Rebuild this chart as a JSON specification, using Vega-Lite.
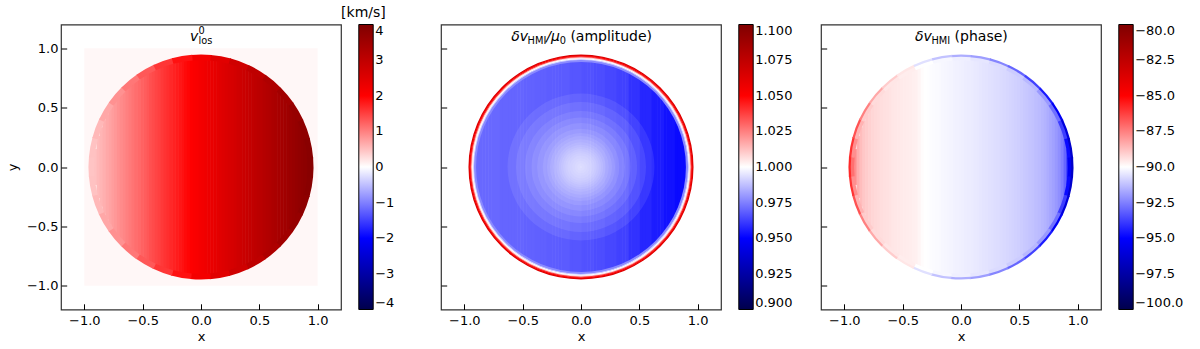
{
"$schema":"https://vega.github.io/schema/vega-lite/v6.json",
"padding":{"left":5,"top":5.5,"right":5,"bottom":5},
"background":"white",
"datasets":{
"s":[
{"x":-0.925,"t":0.151,"b":-0.151,"v1":0.49,"v2":0.9703,"v3":-87.8},
{"x":-0.9,"t":0.261,"b":-0.261,"v1":0.54,"v2":0.9703,"v3":-88.4},
{"x":-0.875,"t":0.334,"b":-0.334,"v1":0.58,"v2":0.9703,"v3":-88.7},
{"x":-0.85,"t":0.393,"b":-0.393,"v1":0.63,"v2":0.9703,"v3":-88.9},
{"x":-0.825,"t":0.442,"b":-0.442,"v1":0.68,"v2":0.9703,"v3":-89.0},
{"x":-0.8,"t":0.485,"b":-0.485,"v1":0.72,"v2":0.9703,"v3":-89.1},
{"x":-0.775,"t":0.524,"b":-0.524,"v1":0.77,"v2":0.9703,"v3":-89.2},
{"x":-0.75,"t":0.558,"b":-0.558,"v1":0.81,"v2":0.9703,"v3":-89.25},
{"x":-0.725,"t":0.59,"b":-0.59,"v1":0.86,"v2":0.9703,"v3":-89.3},
{"x":-0.7,"t":0.619,"b":-0.619,"v1":0.91,"v2":0.9698,"v3":-89.35},
{"x":-0.675,"t":0.646,"b":-0.646,"v1":0.95,"v2":0.9698,"v3":-89.4},
{"x":-0.65,"t":0.67,"b":-0.67,"v1":1.0,"v2":0.9698,"v3":-89.42},
{"x":-0.625,"t":0.693,"b":-0.693,"v1":1.04,"v2":0.9698,"v3":-89.45},
{"x":-0.6,"t":0.714,"b":-0.714,"v1":1.09,"v2":0.9698,"v3":-89.5},
{"x":-0.575,"t":0.734,"b":-0.734,"v1":1.14,"v2":0.9698,"v3":-89.52},
{"x":-0.55,"t":0.753,"b":-0.753,"v1":1.18,"v2":0.9698,"v3":-89.55},
{"x":-0.525,"t":0.77,"b":-0.77,"v1":1.23,"v2":0.9698,"v3":-89.58},
{"x":-0.5,"t":0.786,"b":-0.786,"v1":1.27,"v2":0.9693,"v3":-89.6},
{"x":-0.475,"t":0.801,"b":-0.801,"v1":1.32,"v2":0.9693,"v3":-89.62},
{"x":-0.45,"t":0.815,"b":-0.815,"v1":1.37,"v2":0.9693,"v3":-89.65},
{"x":-0.425,"t":0.828,"b":-0.828,"v1":1.41,"v2":0.9693,"v3":-89.68},
{"x":-0.4,"t":0.84,"b":-0.84,"v1":1.46,"v2":0.9688,"v3":-89.7},
{"x":-0.375,"t":0.851,"b":-0.851,"v1":1.5,"v2":0.9688,"v3":-89.8},
{"x":-0.35,"t":0.861,"b":-0.861,"v1":1.55,"v2":0.9688,"v3":-89.95},
{"x":-0.325,"t":0.871,"b":-0.871,"v1":1.6,"v2":0.9688,"v3":-90.0},
{"x":-0.3,"t":0.879,"b":-0.879,"v1":1.64,"v2":0.9683,"v3":-90.02},
{"x":-0.275,"t":0.887,"b":-0.887,"v1":1.69,"v2":0.9683,"v3":-90.05},
{"x":-0.25,"t":0.894,"b":-0.894,"v1":1.73,"v2":0.9683,"v3":-90.07},
{"x":-0.225,"t":0.9,"b":-0.9,"v1":1.78,"v2":0.9683,"v3":-90.1},
{"x":-0.2,"t":0.906,"b":-0.906,"v1":1.83,"v2":0.9678,"v3":-90.12},
{"x":-0.175,"t":0.911,"b":-0.911,"v1":1.87,"v2":0.9678,"v3":-90.15},
{"x":-0.15,"t":0.915,"b":-0.915,"v1":1.92,"v2":0.9678,"v3":-90.18},
{"x":-0.125,"t":0.918,"b":-0.918,"v1":1.96,"v2":0.9678,"v3":-90.2},
{"x":-0.1,"t":0.921,"b":-0.921,"v1":2.01,"v2":0.9668,"v3":-90.22},
{"x":-0.075,"t":0.923,"b":-0.923,"v1":2.06,"v2":0.9668,"v3":-90.25},
{"x":-0.05,"t":0.924,"b":-0.924,"v1":2.1,"v2":0.9668,"v3":-90.27},
{"x":-0.025,"t":0.925,"b":-0.925,"v1":2.15,"v2":0.9668,"v3":-90.3},
{"x":0,"t":0.925,"b":-0.925,"v1":2.19,"v2":0.966,"v3":-90.32},
{"x":0.025,"t":0.924,"b":-0.924,"v1":2.24,"v2":0.966,"v3":-90.35},
{"x":0.05,"t":0.923,"b":-0.923,"v1":2.29,"v2":0.966,"v3":-90.37},
{"x":0.075,"t":0.921,"b":-0.921,"v1":2.33,"v2":0.966,"v3":-90.4},
{"x":0.1,"t":0.918,"b":-0.918,"v1":2.38,"v2":0.965,"v3":-90.43},
{"x":0.125,"t":0.915,"b":-0.915,"v1":2.42,"v2":0.965,"v3":-90.46},
{"x":0.15,"t":0.911,"b":-0.911,"v1":2.47,"v2":0.965,"v3":-90.49},
{"x":0.175,"t":0.906,"b":-0.906,"v1":2.52,"v2":0.965,"v3":-90.52},
{"x":0.2,"t":0.9,"b":-0.9,"v1":2.56,"v2":0.964,"v3":-90.55},
{"x":0.225,"t":0.894,"b":-0.894,"v1":2.61,"v2":0.964,"v3":-90.58},
{"x":0.25,"t":0.887,"b":-0.887,"v1":2.65,"v2":0.964,"v3":-90.61},
{"x":0.275,"t":0.879,"b":-0.879,"v1":2.7,"v2":0.964,"v3":-90.64},
{"x":0.3,"t":0.871,"b":-0.871,"v1":2.75,"v2":0.9628,"v3":-90.67},
{"x":0.325,"t":0.861,"b":-0.861,"v1":2.79,"v2":0.9628,"v3":-90.7},
{"x":0.35,"t":0.851,"b":-0.851,"v1":2.84,"v2":0.9628,"v3":-90.74},
{"x":0.375,"t":0.84,"b":-0.84,"v1":2.88,"v2":0.9628,"v3":-90.78},
{"x":0.4,"t":0.828,"b":-0.828,"v1":2.93,"v2":0.9598,"v3":-90.82},
{"x":0.425,"t":0.815,"b":-0.815,"v1":2.98,"v2":0.9598,"v3":-90.86},
{"x":0.45,"t":0.801,"b":-0.801,"v1":3.02,"v2":0.9598,"v3":-90.9},
{"x":0.475,"t":0.786,"b":-0.786,"v1":3.07,"v2":0.9598,"v3":-90.95},
{"x":0.5,"t":0.77,"b":-0.77,"v1":3.11,"v2":0.9575,"v3":-91.0},
{"x":0.525,"t":0.753,"b":-0.753,"v1":3.16,"v2":0.9575,"v3":-91.05},
{"x":0.55,"t":0.734,"b":-0.734,"v1":3.21,"v2":0.9575,"v3":-91.1},
{"x":0.575,"t":0.714,"b":-0.714,"v1":3.25,"v2":0.9575,"v3":-91.15},
{"x":0.6,"t":0.693,"b":-0.693,"v1":3.3,"v2":0.9555,"v3":-91.2},
{"x":0.625,"t":0.67,"b":-0.67,"v1":3.34,"v2":0.9555,"v3":-91.27},
{"x":0.65,"t":0.646,"b":-0.646,"v1":3.39,"v2":0.9555,"v3":-91.34},
{"x":0.675,"t":0.619,"b":-0.619,"v1":3.44,"v2":0.9555,"v3":-91.42},
{"x":0.7,"t":0.59,"b":-0.59,"v1":3.48,"v2":0.9535,"v3":-91.5},
{"x":0.725,"t":0.558,"b":-0.558,"v1":3.53,"v2":0.9535,"v3":-91.6},
{"x":0.75,"t":0.524,"b":-0.524,"v1":3.57,"v2":0.9535,"v3":-91.72},
{"x":0.775,"t":0.485,"b":-0.485,"v1":3.62,"v2":0.9535,"v3":-91.85},
{"x":0.8,"t":0.442,"b":-0.442,"v1":3.67,"v2":0.952,"v3":-92.0},
{"x":0.825,"t":0.393,"b":-0.393,"v1":3.71,"v2":0.952,"v3":-92.2},
{"x":0.85,"t":0.334,"b":-0.334,"v1":3.76,"v2":0.952,"v3":-92.5},
{"x":0.875,"t":0.261,"b":-0.261,"v1":3.8,"v2":0.952,"v3":-93.0},
{"x":0.9,"t":0.151,"b":-0.151,"v1":3.85,"v2":0.9515,"v3":-94.2}
],
"rim":[
{"a":-5,"a2":5.5,"v1":2.17,"vo":-91.6,"vi":-90.32},
{"a":5,"a2":15.5,"v1":2.47,"vo":-91.9,"vi":-90.5},
{"a":15,"a2":25.5,"v1":2.76,"vo":-92.4,"vi":-90.7},
{"a":25,"a2":35.5,"v1":3.03,"vo":-93.0,"vi":-91.0},
{"a":35,"a2":45.5,"v1":3.27,"vo":-93.7,"vi":-91.4},
{"a":45,"a2":55.5,"v1":3.48,"vo":-94.5,"vi":-92.0},
{"a":55,"a2":65.5,"v1":3.65,"vo":-95.3,"vi":-92.8},
{"a":65,"a2":75.5,"v1":3.78,"vo":-96.0,"vi":-93.8},
{"a":75,"a2":85.5,"v1":3.86,"vo":-96.4,"vi":-94.8},
{"a":85,"a2":95.5,"v1":3.88,"vo":-96.5,"vi":-95.3},
{"a":95,"a2":105.5,"v1":3.86,"vo":-96.4,"vi":-94.8},
{"a":105,"a2":115.5,"v1":3.78,"vo":-96.0,"vi":-93.8},
{"a":115,"a2":125.5,"v1":3.65,"vo":-95.3,"vi":-92.8},
{"a":125,"a2":135.5,"v1":3.48,"vo":-94.5,"vi":-92.0},
{"a":135,"a2":145.5,"v1":3.27,"vo":-93.7,"vi":-91.4},
{"a":145,"a2":155.5,"v1":3.03,"vo":-93.0,"vi":-91.0},
{"a":155,"a2":165.5,"v1":2.76,"vo":-92.4,"vi":-90.7},
{"a":165,"a2":175.5,"v1":2.47,"vo":-91.9,"vi":-90.5},
{"a":175,"a2":185.5,"v1":2.17,"vo":-91.6,"vi":-90.32},
{"a":185,"a2":195.5,"v1":1.87,"vo":-91.2,"vi":-90.15},
{"a":195,"a2":205.5,"v1":1.58,"vo":-90.6,"vi":-90.0},
{"a":205,"a2":215.5,"v1":1.31,"vo":-89.5,"vi":-89.65},
{"a":215,"a2":225.5,"v1":1.07,"vo":-89.0,"vi":-89.5},
{"a":225,"a2":235.5,"v1":0.86,"vo":-88.3,"vi":-89.3},
{"a":235,"a2":245.5,"v1":0.69,"vo":-87.5,"vi":-89.0},
{"a":245,"a2":255.5,"v1":0.56,"vo":-86.6,"vi":-88.5},
{"a":255,"a2":265.5,"v1":0.48,"vo":-86.0,"vi":-87.8},
{"a":265,"a2":275.5,"v1":0.46,"vo":-85.8,"vi":-87.2},
{"a":275,"a2":285.5,"v1":0.48,"vo":-86.0,"vi":-87.8},
{"a":285,"a2":295.5,"v1":0.56,"vo":-86.6,"vi":-88.5},
{"a":295,"a2":305.5,"v1":0.69,"vo":-87.5,"vi":-89.0},
{"a":305,"a2":315.5,"v1":0.86,"vo":-88.3,"vi":-89.3},
{"a":315,"a2":325.5,"v1":1.07,"vo":-89.0,"vi":-89.5},
{"a":325,"a2":335.5,"v1":1.31,"vo":-89.5,"vi":-89.65},
{"a":335,"a2":345.5,"v1":1.58,"vo":-90.6,"vi":-90.0},
{"a":345,"a2":355.5,"v1":1.87,"vo":-91.2,"vi":-90.15}
],
"glow":[
{"a":0,"a2":360,"r":0.619},{"a":0,"a2":360,"r":0.5475},{"a":0,"a2":360,"r":0.4725},{"a":0,"a2":360,"r":0.417},{"a":0,"a2":360,"r":0.37},
{"a":0,"a2":360,"r":0.323},{"a":0,"a2":360,"r":0.287},{"a":0,"a2":360,"r":0.261},{"a":0,"a2":360,"r":0.234},{"a":0,"a2":360,"r":0.208},
{"a":0,"a2":360,"r":0.187},{"a":0,"a2":360,"r":0.169},{"a":0,"a2":360,"r":0.151},{"a":0,"a2":360,"r":0.133},{"a":0,"a2":360,"r":0.115},
{"a":0,"a2":360,"r":0.096},{"a":0,"a2":360,"r":0.074},{"a":0,"a2":360,"r":0.053},{"a":0,"a2":360,"r":0.032},{"a":0,"a2":360,"r":0.011}
],
"ring":[
{"a":0,"a2":360,"r":0.948,"r2":0.936,"v":1.065},
{"a":0,"a2":360,"r":0.9404,"r2":0.928,"v":1.055},
{"a":0,"a2":360,"r":0.9324,"r2":0.92,"v":1.04},
{"a":0,"a2":360,"r":0.9244,"r2":0.912,"v":1.01},
{"a":0,"a2":360,"r":0.9164,"r2":0.904,"v":1.0},
{"a":0,"a2":360,"r":0.9084,"r2":0.896,"v":0.99},
{"a":0,"a2":360,"r":0.9004,"r2":0.884,"v":0.977}
]
},
"hconcat":[
{
"width":280,"height":285,
"layer":[
{"data":{"values":[{}]},"mark":{"type":"rect"},
 "encoding":{
  "x":{"datum":-1,"type":"quantitative","scale":{"domain":[-1.18,1.18]}},
  "x2":{"datum":1},
  "y":{"datum":-1,"type":"quantitative","scale":{"domain":[-1.2,1.2]}},
  "y2":{"datum":1},
  "color":{"datum":0.06,"type":"quantitative","scale":{"domain":[-4,-2,0,2,4],"range":["#00004c","#0000ff","#ffffff","#ff0000","#800000"],"interpolate":"rgb"}}}},
{"data":{"name":"s"},"mark":{"type":"rect"},
 "encoding":{
  "x":{"field":"x","type":"quantitative","bin":{"binned":true,"step":0.03},"scale":{"domain":[-1.18,1.18]},"axis":{"title":"x","values":[-1,-0.5,0,0.5,1],"format":".1f","labelFlush":false}},
  "y":{"field":"t","type":"quantitative","scale":{"domain":[-1.2,1.2]},"axis":{"title":"y","values":[-1,-0.5,0,0.5,1],"format":".1f","labelFlush":false}},
  "y2":{"field":"b"},
  "color":{"field":"v1","type":"quantitative","scale":{"domain":[-4,-2,0,2,4],"range":["#00004c","#0000ff","#ffffff","#ff0000","#800000"],"interpolate":"rgb"},
   "legend":{"type":"gradient","orient":"none","legendX":297.8,"legendY":0,"direction":"vertical","title":null,"values":[-4,-3,-2,-1,0,1,2,3,4],"format":"d"}}}},
{"data":{"name":"rim"},"mark":{"type":"arc","strokeWidth":0},
 "encoding":{
  "theta":{"field":"a","type":"quantitative","stack":null,"scale":{"domain":[0,360],"range":[0,6.283185307]}},
  "theta2":{"field":"a2"},
  "radius":{"datum":0.948,"type":"quantitative","scale":{"type":"linear","domain":[0,1],"range":[0,118.7]}},
  "radius2":{"datum":0.9},
  "color":{"field":"v1","type":"quantitative","scale":{"domain":[-4,-2,0,2,4],"range":["#00004c","#0000ff","#ffffff","#ff0000","#800000"],"interpolate":"rgb"}}}},
{"data":{"values":[{}]},"mark":{"type":"text","align":"left","baseline":"alphabetic","fontSize":14,"fontStyle":"italic","color":"black"},
 "encoding":{"x":{"datum":-0.095,"type":"quantitative"},"y":{"datum":1.059,"type":"quantitative"},"text":{"value":"v"}}},
{"data":{"values":[{}]},"mark":{"type":"text","align":"left","baseline":"alphabetic","fontSize":9.8,"color":"black"},
 "encoding":{"x":{"datum":-0.022,"type":"quantitative"},"y":{"datum":1.122,"type":"quantitative"},"text":{"value":"0"}}},
{"data":{"values":[{}]},"mark":{"type":"text","align":"left","baseline":"alphabetic","fontSize":9.8,"color":"black"},
 "encoding":{"x":{"datum":-0.022,"type":"quantitative"},"y":{"datum":1.037,"type":"quantitative"},"text":{"value":"los"}}},
{"data":{"values":[{}]},"mark":{"type":"text","align":"center","baseline":"alphabetic","fontSize":14,"color":"black"},
 "encoding":{"x":{"datum":1.3925,"type":"quantitative"},"y":{"datum":1.261,"type":"quantitative"},"text":{"value":"[km/s]"}}}
]
},
{
"width":280,"height":285,
"layer":[
{"data":{"name":"s"},"mark":{"type":"rect"},
 "encoding":{
  "x":{"field":"x","type":"quantitative","bin":{"binned":true,"step":0.03},"scale":{"domain":[-1.18,1.18]},"axis":{"title":"x","values":[-1,-0.5,0,0.5,1],"format":".1f","labelFlush":false}},
  "y":{"field":"t","type":"quantitative","scale":{"domain":[-1.2,1.2]},"axis":{"title":null,"values":[-1,-0.5,0,0.5,1],"labels":false}},
  "y2":{"field":"b"},
  "color":{"field":"v2","type":"quantitative","scale":{"domain":[0.9,0.95,1.0,1.05,1.1],"range":["#00004c","#0000ff","#ffffff","#ff0000","#800000"],"interpolate":"rgb"},
   "legend":{"type":"gradient","orient":"none","legendX":297.8,"legendY":0,"direction":"vertical","title":null,"values":[0.9,0.925,0.95,0.975,1.0,1.025,1.05,1.075,1.1],"format":".3f"}}}},
{"data":{"name":"glow"},"mark":{"type":"arc","fill":"#ffffff","opacity":0.085,"strokeWidth":0},
 "encoding":{
  "theta":{"field":"a","type":"quantitative","stack":null,"scale":{"domain":[0,360],"range":[0,6.283185307]}},
  "theta2":{"field":"a2"},
  "radius":{"field":"r","type":"quantitative","stack":null,"scale":{"type":"linear","domain":[0,1],"range":[0,118.7]}}}},
{"data":{"name":"ring"},"mark":{"type":"arc","strokeWidth":0},
 "encoding":{
  "theta":{"field":"a","type":"quantitative","stack":null,"scale":{"domain":[0,360],"range":[0,6.283185307]}},
  "theta2":{"field":"a2"},
  "radius":{"field":"r","type":"quantitative","stack":null,"scale":{"type":"linear","domain":[0,1],"range":[0,118.7]}},
  "radius2":{"field":"r2"},
  "color":{"field":"v","type":"quantitative","scale":{"domain":[0.9,0.95,1.0,1.05,1.1],"range":["#00004c","#0000ff","#ffffff","#ff0000","#800000"],"interpolate":"rgb"}}}},
{"data":{"values":[{}]},"mark":{"type":"text","align":"left","baseline":"alphabetic","fontSize":14,"fontStyle":"italic","color":"black"},
 "encoding":{"x":{"datum":-0.598,"type":"quantitative"},"y":{"datum":1.057,"type":"quantitative"},"text":{"value":"δv"}}},
{"data":{"values":[{}]},"mark":{"type":"text","align":"left","baseline":"alphabetic","fontSize":9.8,"color":"black"},
 "encoding":{"x":{"datum":-0.458,"type":"quantitative"},"y":{"datum":1.036,"type":"quantitative"},"text":{"value":"HMI"}}},
{"data":{"values":[{}]},"mark":{"type":"text","align":"left","baseline":"alphabetic","fontSize":14,"fontStyle":"italic","color":"black"},
 "encoding":{"x":{"datum":-0.297,"type":"quantitative"},"y":{"datum":1.057,"type":"quantitative"},"text":{"value":"/μ"}}},
{"data":{"values":[{}]},"mark":{"type":"text","align":"left","baseline":"alphabetic","fontSize":9.8,"color":"black"},
 "encoding":{"x":{"datum":-0.182,"type":"quantitative"},"y":{"datum":1.036,"type":"quantitative"},"text":{"value":"0"}}},
{"data":{"values":[{}]},"mark":{"type":"text","align":"left","baseline":"alphabetic","fontSize":14,"color":"black"},
 "encoding":{"x":{"datum":-0.091,"type":"quantitative"},"y":{"datum":1.057,"type":"quantitative"},"text":{"value":"(amplitude)"}}}
]
},
{
"width":280,"height":285,
"layer":[
{"data":{"name":"s"},"mark":{"type":"rect"},
 "encoding":{
  "x":{"field":"x","type":"quantitative","bin":{"binned":true,"step":0.03},"scale":{"domain":[-1.18,1.18]},"axis":{"title":"x","values":[-1,-0.5,0,0.5,1],"format":".1f","labelFlush":false}},
  "y":{"field":"t","type":"quantitative","scale":{"domain":[-1.2,1.2]},"axis":{"title":null,"values":[-1,-0.5,0,0.5,1],"labels":false}},
  "y2":{"field":"b"},
  "color":{"field":"v3","type":"quantitative","scale":{"domain":[-100,-95,-90,-85,-80],"range":["#00004c","#0000ff","#ffffff","#ff0000","#800000"],"interpolate":"rgb"},
   "legend":{"type":"gradient","orient":"none","legendX":297.8,"legendY":0,"direction":"vertical","title":null,"values":[-100,-97.5,-95,-92.5,-90,-87.5,-85,-82.5,-80],"format":".1f"}}}},
{"data":{"name":"rim"},"mark":{"type":"arc","strokeWidth":0},
 "encoding":{
  "theta":{"field":"a","type":"quantitative","stack":null,"scale":{"domain":[0,360],"range":[0,6.283185307]}},
  "theta2":{"field":"a2"},
  "radius":{"datum":0.94,"type":"quantitative","scale":{"type":"linear","domain":[0,1],"range":[0,118.7]}},
  "radius2":{"datum":0.9},
  "color":{"field":"vi","type":"quantitative","scale":{"domain":[-100,-95,-90,-85,-80],"range":["#00004c","#0000ff","#ffffff","#ff0000","#800000"],"interpolate":"rgb"}}}},
{"data":{"name":"rim"},"mark":{"type":"arc","strokeWidth":0},
 "encoding":{
  "theta":{"field":"a","type":"quantitative","stack":null,"scale":{"domain":[0,360],"range":[0,6.283185307]}},
  "theta2":{"field":"a2"},
  "radius":{"datum":0.948,"type":"quantitative","scale":{"type":"linear","domain":[0,1],"range":[0,118.7]}},
  "radius2":{"datum":0.929},
  "color":{"field":"vo","type":"quantitative","scale":{"domain":[-100,-95,-90,-85,-80],"range":["#00004c","#0000ff","#ffffff","#ff0000","#800000"],"interpolate":"rgb"}}}},
{"data":{"values":[{}]},"mark":{"type":"text","align":"left","baseline":"alphabetic","fontSize":14,"fontStyle":"italic","color":"black"},
 "encoding":{"x":{"datum":-0.394,"type":"quantitative"},"y":{"datum":1.057,"type":"quantitative"},"text":{"value":"δv"}}},
{"data":{"values":[{}]},"mark":{"type":"text","align":"left","baseline":"alphabetic","fontSize":9.8,"color":"black"},
 "encoding":{"x":{"datum":-0.253,"type":"quantitative"},"y":{"datum":1.036,"type":"quantitative"},"text":{"value":"HMI"}}},
{"data":{"values":[{}]},"mark":{"type":"text","align":"left","baseline":"alphabetic","fontSize":14,"color":"black"},
 "encoding":{"x":{"datum":-0.055,"type":"quantitative"},"y":{"datum":1.057,"type":"quantitative"},"text":{"value":"(phase)"}}}
]
}
],
"spacing":100,
"bounds":"flush",
"resolve":{"scale":{"x":"independent","y":"independent","color":"independent","size":"independent","theta":"independent","radius":"independent"},"legend":{"color":"independent"},"axis":{"x":"independent","y":"independent"}},
"config":{
 "font":"DejaVu Sans",
 "view":{"stroke":"#333333","strokeWidth":1.2},
 "axis":{"grid":false,"domain":false,"tickColor":"black","tickSize":-5.7,"tickWidth":1,"labelFontSize":13,"labelColor":"black","titleFontSize":13,"titleFontWeight":"normal","titleColor":"black","labelFont":"DejaVu Sans","titleFont":"DejaVu Sans"},
 "axisX":{"labelPadding":10.6,"titlePadding":3},
 "axisY":{"labelPadding":8.7,"titlePadding":7},
 "legend":{"padding":0,"gradientLength":285,"gradientThickness":14.4,"gradientStrokeColor":"black","gradientStrokeWidth":1,"labelFont":"DejaVu Sans","labelFontSize":13,"labelColor":"black","labelOffset":7,"labelBaseline":"middle","labelOverlap":false,"labelLimit":200}
}
}
